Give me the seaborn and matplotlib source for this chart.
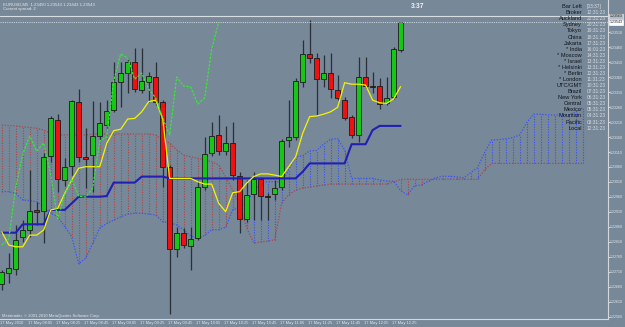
import numpy as np
import pandas as pd
import matplotlib
matplotlib.use("Agg")
import matplotlib.pyplot as plt
import matplotlib.transforms as mtransforms
import seaborn as sns

# ---------------- data (EURUSD M5, 17 May 2010) ----------------
opens = [1.22670, 1.22707, 1.22720, 1.22827, 1.22850, 1.22917, 1.22913, 1.23097, 1.23217, 1.23017,
         1.23063, 1.23277, 1.23093, 1.23100, 1.23163, 1.23200, 1.23250, 1.23343, 1.23373, 1.23410,
         1.23317, 1.23343, 1.23360, 1.23277, 1.23060, 1.22787, 1.22840, 1.22797, 1.22823, 1.22993,
         1.23107, 1.23167, 1.23113, 1.23140, 1.23030, 1.22887, 1.22970, 1.23020, 1.22963, 1.22970,
         1.22993, 1.23150, 1.23160, 1.23343, 1.23437, 1.23423, 1.23353, 1.23373, 1.23317, 1.23283,
         1.23227, 1.23167, 1.23360, 1.23330, 1.23330, 1.23273, 1.23293, 1.23450]
highs = [1.22717, 1.22773, 1.22867, 1.22883, 1.23050, 1.22943, 1.23107, 1.23230, 1.23237, 1.23090,
         1.23283, 1.23320, 1.23190, 1.23280, 1.23277, 1.23283, 1.23410, 1.23410, 1.23423, 1.23457,
         1.23457, 1.23377, 1.23410, 1.23283, 1.23067, 1.22860, 1.22857, 1.22860, 1.23017, 1.23160,
         1.23210, 1.23233, 1.23197, 1.23210, 1.23043, 1.23017, 1.23043, 1.23027, 1.22973, 1.23017,
         1.23153, 1.23283, 1.23357, 1.23483, 1.23550, 1.23440, 1.23433, 1.23440, 1.23367, 1.23293,
         1.23233, 1.23427, 1.23427, 1.23377, 1.23357, 1.23360, 1.23460, 1.23543]
lows = [1.22650, 1.22673, 1.22700, 1.22810, 1.22827, 1.22867, 1.22807, 1.23077, 1.22977, 1.22997,
        1.23033, 1.23077, 1.22990, 1.22977, 1.23150, 1.23183, 1.23243, 1.23260, 1.23307, 1.23310,
        1.23307, 1.23277, 1.23267, 1.22993, 1.22570, 1.22760, 1.22790, 1.22717, 1.22817, 1.22983,
        1.23097, 1.23100, 1.23100, 1.23017, 1.22840, 1.22877, 1.22883, 1.22883, 1.22883, 1.22950,
        1.22983, 1.23127, 1.23150, 1.23327, 1.23407, 1.23233, 1.23327, 1.23290, 1.23283, 1.23217,
        1.23157, 1.23143, 1.23323, 1.23307, 1.23253, 1.23267, 1.23287, 1.23443]
closes = [1.22710, 1.22723, 1.22817, 1.22850, 1.22913, 1.22910, 1.23093, 1.23223, 1.23020, 1.23060,
          1.23280, 1.23093, 1.23087, 1.23163, 1.23207, 1.23247, 1.23343, 1.23373, 1.23410, 1.23320,
          1.23347, 1.23363, 1.23277, 1.23060, 1.22787, 1.22840, 1.22800, 1.22820, 1.22993, 1.23103,
          1.23163, 1.23113, 1.23140, 1.23033, 1.22887, 1.22967, 1.23020, 1.22963, 1.22960, 1.22990,
          1.23147, 1.23160, 1.23347, 1.23437, 1.23423, 1.23353, 1.23373, 1.23320, 1.23290, 1.23223,
          1.23167, 1.23360, 1.23330, 1.23327, 1.23270, 1.23290, 1.23453, 1.23543]

tenkan = [1.22844, 1.22800, 1.22794, 1.22794, 1.22833, 1.22833, 1.22850, 1.22917, 1.22922, 1.22972,
          1.23017, 1.23056, 1.23061, 1.23061, 1.23061, 1.23139, 1.23181, 1.23186, 1.23220, 1.23222,
          1.23244, 1.23278, 1.23283, 1.23220, 1.23022, 1.23022, 1.23022, 1.23022, 1.23011, 1.23003,
          1.23003, 1.22939, 1.22911, 1.22974, 1.22978, 1.23006, 1.23028, 1.23037, 1.23037, 1.23033,
          1.23028, 1.23061, 1.23094, 1.23172, 1.23228, 1.23230, 1.23236, 1.23244, 1.23259, 1.23341,
          1.23336, 1.23336, 1.23333, 1.23283, 1.23274, 1.23272, 1.23287, 1.23328]
kijun = [1.22841, 1.22841, 1.22841, 1.22869, 1.22869, 1.22869, 1.22869, 1.22917, 1.22917, 1.22917,
         1.22939, 1.22961, 1.22961, 1.22961, 1.22961, 1.22963, 1.23008, 1.23008, 1.23008, 1.23008,
         1.23028, 1.23028, 1.23028, 1.23028, 1.23022, 1.23022, 1.23022, 1.23022, 1.23022, 1.23022,
         1.23022, 1.23022, 1.23022, 1.23022, 1.23022, 1.23022, 1.23022, 1.23022, 1.23022, 1.23022,
         1.23022, 1.23022, 1.23022, 1.23044, 1.23072, 1.23072, 1.23072, 1.23072, 1.23072, 1.23072,
         1.23136, 1.23136, 1.23136, 1.23183, 1.23197, 1.23197, 1.23197, 1.23197]
span_a = [1.22978, 1.22978, 1.22972, 1.22950, 1.22948, 1.22944, 1.22928, 1.22906, 1.22894, 1.22861,
          1.22828, 1.22737, 1.22756, 1.22806, 1.22856, 1.22872, 1.22883, 1.22894, 1.22903, 1.22906,
          1.22906, 1.22903, 1.22900, 1.22878, 1.22874, 1.22867, 1.22850, 1.22830, 1.22823, 1.22832,
          1.22851, 1.22851, 1.22859, 1.22917, 1.22926, 1.22944, 1.22978, 1.23008, 1.23011, 1.23011,
          1.23011, 1.23051, 1.23094, 1.23097, 1.23114, 1.23115, 1.23136, 1.23153, 1.23155, 1.23117,
          1.23022, 1.23022, 1.23022, 1.23022, 1.23017, 1.23013, 1.23013, 1.22981, 1.22967, 1.22998,
          1.23000, 1.23013, 1.23024, 1.23029, 1.23029, 1.23027, 1.23024, 1.23041, 1.23058, 1.23108,
          1.23150, 1.23151, 1.23154, 1.23158, 1.23166, 1.23207, 1.23236, 1.23236, 1.23234, 1.23233,
          1.23235, 1.23234, 1.23242, 1.23257]
span_b = [1.23200, 1.23198, 1.23197, 1.23194, 1.23192, 1.23189, 1.23183, 1.23172, 1.23167, 1.23167,
          1.23167, 1.23167, 1.23167, 1.23170, 1.23170, 1.23170, 1.23170, 1.23170, 1.23170, 1.23170,
          1.23170, 1.23170, 1.23167, 1.23150, 1.23139, 1.23117, 1.23100, 1.23094, 1.23089, 1.23083,
          1.23078, 1.23067, 1.23027, 1.22983, 1.22933, 1.22857, 1.22807, 1.22810, 1.22813, 1.22817,
          1.22940, 1.22967, 1.22983, 1.22990, 1.22993, 1.22997, 1.23000, 1.23003, 1.23003, 1.23003,
          1.23003, 1.23003, 1.23003, 1.23003, 1.23003, 1.23003, 1.23010, 1.23019, 1.23019, 1.23019,
          1.23019, 1.23019, 1.23019, 1.23019, 1.23019, 1.23019, 1.23019, 1.23019, 1.23019, 1.23050,
          1.23072, 1.23072, 1.23072, 1.23072, 1.23072, 1.23072, 1.23072, 1.23072, 1.23072, 1.23072,
          1.23072, 1.23072, 1.23072, 1.23072]
chikou_shift = 26

price_ticks = [1.22560, 1.22610, 1.22660, 1.22710, 1.22760, 1.22810, 1.22860, 1.22910, 1.22960, 1.23010,
               1.23060, 1.23110, 1.23160, 1.23210, 1.23260, 1.23310, 1.23360, 1.23410, 1.23460, 1.23510]
time_tick_bars = [0, 4, 8, 12, 16, 20, 24, 28, 32, 36, 40, 44, 48, 52, 56]
time_tick_labels = ["17 May 2010", "17 May 08:05", "17 May 08:25", "17 May 08:45", "17 May 09:05",
                    "17 May 09:25", "17 May 09:45", "17 May 10:05", "17 May 10:25", "17 May 10:45",
                    "17 May 11:05", "17 May 11:25", "17 May 11:45", "17 May 12:05", "17 May 12:25"]
ask_price = 1.23563
bid_price = 1.23543

clock_names = ["Bar Left", "Broker", "Auckland", "Sydney", "Tokyo", "China", "Jakarta", "* India",
               "* Moscow", "* Israel", "* Helsinki", "* Berlin", "* London", "UTC/GMT", "Brazil",
               "New York", "Central", "Mexico", "Mountain", "Pacific", "Local"]
clock_times = ["[03:37]", "12:31:23", "22:31:23", "20:31:23", "19:31:23", "18:31:23", "17:31:23",
               "16:01:23", "14:31:23", "13:31:23", "13:31:23", "12:31:23", "11:31:23", "10:31:23",
               "07:31:23", "06:31:23", "05:31:23", "05:31:23", "04:31:23", "03:31:23", "12:31:23"]
title_text = "EURUSD,M5  1.23450 1.23543 1.23443 1.23543"
spread_text = "Current spread: 2"
bar_left_text = "3:37"
copyright_text = "Metatrader, \u00a9 2001-2010 MetaQuotes Software Corp."

# ---------------- styling ----------------
BG = "#778899"
sns.set_style("dark", {"axes.facecolor": BG, "figure.facecolor": BG})
plt.rcParams['font.family'] = ['Liberation Sans', 'DejaVu Sans']

W, H = 625, 327
fig = plt.figure(figsize=(W / 100, H / 100), dpi=100, facecolor=BG)
ax = fig.add_axes([0, 8 / H, 608 / W, 319 / H])
ax.set_facecolor(BG)

o = np.array(opens); h = np.array(highs); l = np.array(lows); c = np.array(closes)
n = len(o)
idx = np.arange(n)

a = np.array(span_a); b = np.array(span_b)
cidx = np.arange(len(a))

BLUE_C = "#3a52f0"
RED_C = "#a8464a"
dot = (0, (1.0, 1.3))

# cloud hatching
hatch_cols = np.where(a >= b, BLUE_C, RED_C)
ax.vlines(cidx, np.minimum(a, b), np.maximum(a, b), colors=hatch_cols,
          linestyles=[dot], linewidth=0.8, zorder=1)
sns.lineplot(x=cidx, y=a, ax=ax, color=BLUE_C, linewidth=0.9, linestyle=dot, zorder=2)
sns.lineplot(x=cidx, y=b, ax=ax, color=RED_C, linewidth=0.9, linestyle=dot, zorder=2)

# candles
up = c >= o
ax.vlines(idx, l, h, color="#2a3038", linewidth=0.9, zorder=3)
ax.bar(idx, np.abs(c - o), bottom=np.minimum(o, c), width=0.72,
       color=np.where(up, "#14c814", "#f01010"), edgecolor="#1a1a1a", linewidth=0.6, zorder=4)

# indicator lines
sns.lineplot(x=idx, y=kijun, ax=ax, color="#2020b4", linewidth=1.5, zorder=5)
sns.lineplot(x=idx, y=tenkan, ax=ax, color="#f4f400", linewidth=0.9, zorder=6)
chik = pd.Series(c).shift(-chikou_shift).dropna()
sns.lineplot(x=chik.index.values, y=chik.values, ax=ax, color="#3ae63a",
             linewidth=0.9, linestyle=(0, (2.0, 1.0)), zorder=6)

# ask / bid lines
ax.axhline(ask_price, color="#d8dde2", linewidth=0.8, zorder=7)
ax.axhline(bid_price, color="#c8ced4", linewidth=0.8, linestyle=(0, (1, 1)), zorder=7)

# axes limits
ax.set_xlim(-0.214, 86.64)
ax.set_ylim(1.225533, 1.236167)
if ax.get_legend():
    ax.get_legend().remove()
ax.set_xlabel(""); ax.set_ylabel("")
ax.grid(False)

LIGHT = "#e4e8ec"
ax.yaxis.tick_right()
ax.set_yticks(price_ticks)
ax.set_yticklabels([f"{p:.5f}" for p in price_ticks])
ax.tick_params(axis="y", length=1.2, width=0.6, colors=LIGHT, labelsize=2.6, pad=0.4)

ax.set_xticks(np.array(time_tick_bars) - 0.25)
ax.set_xticklabels(time_tick_labels, ha="left")
ax.tick_params(axis="x", length=6, width=0.6, colors=LIGHT, labelsize=2.9, pad=-4.4, direction="out")

for s in ["top", "left"]:
    ax.spines[s].set_visible(False)
for s in ["right", "bottom"]:
    ax.spines[s].set_visible(True)
    ax.spines[s].set_color("#d4d8dc")
    ax.spines[s].set_linewidth(0.8)

# price boxes
blend = mtransforms.blended_transform_factory(ax.transAxes, ax.transData)
ax.text(1.003, ask_price, f"{ask_price:.5f}", transform=blend, fontsize=2.5, color="#1a1a1a",
        va="center", ha="left", clip_on=False, zorder=10,
        bbox=dict(boxstyle="square,pad=0.12", fc="#b4bcc6", ec="#e8e8e8", lw=0.5))
ax.text(1.003, bid_price, f"{bid_price:.5f}", transform=blend, fontsize=2.5, color="#1a1a1a",
        va="center", ha="left", clip_on=False, zorder=10,
        bbox=dict(boxstyle="square,pad=0.12", fc="#ffffff", ec="#ffffff", lw=0.5))

# texts
def fx(px):
    return px / W

def fy(py):
    return 1 - py / H

fig.text(fx(3), fy(4.2), title_text, fontsize=3.1, color="#e8e8e8", va="center", ha="left")
fig.text(fx(3), fy(9.4), spread_text, fontsize=3.1, color="#e8e8e8", va="center", ha="left")
fig.text(fx(418), fy(7), bar_left_text, fontsize=4.8, color="#f4f4f4", fontweight="bold",
         va="center", ha="center")
fig.text(fx(2), fy(315.7), copyright_text, fontsize=3.0, color="#e8e8e8", va="center", ha="left")

for k, (nm, tm) in enumerate(zip(clock_names, clock_times)):
    yy = 6.7 + 6.07 * k
    fig.text(fx(582), fy(yy), nm, fontsize=4.1, color="#101418", va="center", ha="right")
    fig.text(fx(587), fy(yy), tm, fontsize=3.5, color="#d8dce0", va="center", ha="left")

fig.savefig("out.png", dpi=100, facecolor=BG)
